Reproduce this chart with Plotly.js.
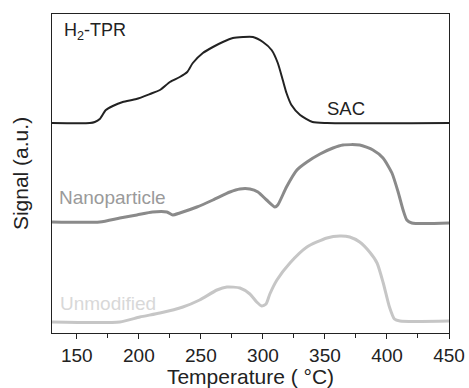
<!DOCTYPE html>
<html><head><meta charset="utf-8">
<script src="https://cdn.plot.ly/plotly-3.0.1.min.js"></script>
<style>html,body{margin:0;padding:0;background:#fff;}#chart{width:469px;height:388px;}</style>
</head><body><div id="chart"></div>
<script>
// SAC
const sacT = [130,160.5,164.5,168.5,173.4,179,187,198,209,217,225,233,239,243.5,251.6,259.7,267.7,275.8,284,292,300,307,312,316,319,323,330,340,351.6,450];
const sacV = [210,210,211,214,223,227,231,234,239,243,251,256,261,270,280,286,291,295,296,296,291,283,270,253,240,228,218,211,210,210];
// Nanoparticle
const npT = [130,168.5,184.7,198.4,211,222.6,227.4,233,246.8,259.7,273.4,281.5,289.5,296,303,309.7,312,319,327.4,335.5,346,356.5,364.5,378,388.7,396.8,404,409,413,416,420,450];
const npV = [111,111,115,118,121,121,118,120,126,133,141,144,144,141,133,126,128,146,163,171,179,185,188,188,183,175,160,141,123,113,110,110];
// Unmodified
const unT = [130,184.7,200.8,217,235.5,249,263,271,281.5,289.5,295,299,302.5,305.6,311.3,321.8,335.5,351.6,362,370,378,386,392,397,402,406,410.5,450];
const unV = [11,11,16,20,26,33,43,46,45,39,31,27,29,39,53,70,86,95,97,96,91,81,70,50,26,14,12,12];

const xTicks = [150,200,250,300,350,400,450];
const labels = ['SAC','Nanoparticle','Unmodified'];

const F = 'Arial, "Liberation Sans", sans-serif';
const traces = [
  {x: sacT, y: sacV, mode:'lines', line:{color:'#222222', width:2, shape:'spline', smoothing:0.6}, name:labels[0]},
  {x: npT, y: npV, mode:'lines', line:{color:'#8a8a8a', width:3, shape:'spline', smoothing:0.6}, name:labels[1]},
  {x: unT, y: unV, mode:'lines', line:{color:'#c6c6c6', width:3, shape:'spline', smoothing:0.6}, name:labels[2]}
];
const layout = {
  width:469, height:388,
  margin:{l:52, r:20, t:14, b:55},
  paper_bgcolor:'#fff', plot_bgcolor:'#fff',
  showlegend:false,
  font:{family:F, color:'#222', size:19},
  xaxis:{
    range:[130,450], tickvals:xTicks, ticktext:xTicks.map(String),
    ticks:'outside', ticklen:5, tickcolor:'#222', tickwidth:1,
    minor:{dtick:25, tick0:0, ticks:'outside', ticklen:4, tickcolor:'#222'},
    showline:true, linecolor:'#222', linewidth:1, mirror:true,
    showgrid:false, zeroline:false,
    tickfont:{family:F, size:19, color:'#222'},
    title:{text:'Temperature ( °C)', font:{family:F, size:21, color:'#222'}, standoff:1}
  },
  yaxis:{
    range:[0,319], showticklabels:false, ticks:'',
    showline:true, linecolor:'#222', linewidth:1, mirror:true,
    showgrid:false, zeroline:false,
    title:{text:'Signal (a.u.)', font:{family:F, size:21, color:'#222'}, standoff:16}
  },
  annotations:[
    {x:137.9, y:0.944, xref:'x', yref:'paper', xanchor:'left', yanchor:'middle', showarrow:false,
     text:'H<sub>2</sub>-TPR', font:{family:F, size:18, color:'#222'}},
    {x:367, y:225, xref:'x', yref:'y', xanchor:'center', yanchor:'middle', showarrow:false,
     text:labels[0], font:{family:F, size:18.5, color:'#222'}},
    {x:134, y:136, xref:'x', yref:'y', xanchor:'left', yanchor:'middle', showarrow:false,
     text:labels[1], font:{family:F, size:19, color:'#9a9a9a'}},
    {x:135, y:30, xref:'x', yref:'y', xanchor:'left', yanchor:'middle', showarrow:false,
     text:labels[2], font:{family:F, size:19, color:'#d8d8d8'}}
  ]
};
Plotly.newPlot('chart', traces, layout, {displayModeBar:false, staticPlot:true});
</script></body></html>
